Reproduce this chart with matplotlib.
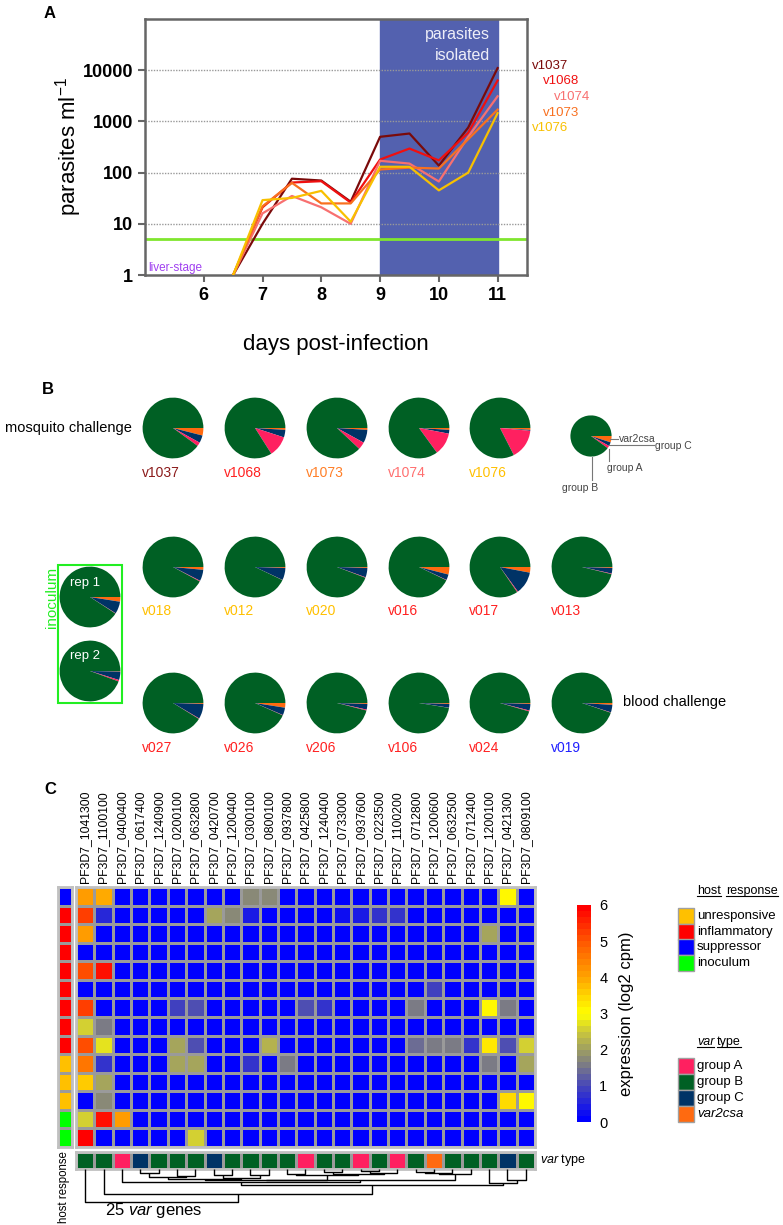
import matplotlib
matplotlib.use("Agg")
import matplotlib.pyplot as plt
import numpy as np
from matplotlib.colors import LinearSegmentedColormap, ListedColormap
from matplotlib.patches import Rectangle

plt.rcParams['font.family'] = 'Liberation Sans'
plt.rcParams['mathtext.fontset'] = 'custom'
plt.rcParams['mathtext.rm'] = 'Liberation Sans'
plt.rcParams['mathtext.it'] = 'Liberation Sans:italic'
plt.rcParams['mathtext.bf'] = 'Liberation Sans:bold'

# ---------------- Panel A data ----------------
days = [6.5, 7, 7.5, 8, 8.5, 9, 9.5, 10, 10.5, 11]
v1037 = [1, 10, 76, 70, 27, 500, 580, 137, 760, 11000]
v1068 = [1, 21, 64, 68, 26, 180, 295, 173, 600, 6300]
v1074 = [1, 16, 35, 21, 10, 170, 150, 67, 500, 3100]
v1073 = [1, 22, 63, 25, 25, 115, 125, 120, 450, 1700]
v1076 = [1, 29, 32, 44, 11, 130, 130, 45, 100, 1450]
series_names = ['v1037', 'v1068', 'v1074', 'v1073', 'v1076']
series_colors = ['#7A0A0A', '#F01010', '#F87070', '#F87020', '#F8C000']
detection_limit = 5

# ---------------- Panel B data ----------------
pie_types = ['var2csa', 'group C', 'group A', 'group B']
pie_colors = ['#FF6A10', '#003366', '#FF2060', '#006024']

mosq_names = ['v1037', 'v1068', 'v1073', 'v1074', 'v1076']
mosq_label_colors = ['#8B1A1A', '#FF2020', '#FF7F27', '#FF6F6F', '#FFC000']
mosq_var2csa = [4, 1, 1, 1, 1]
mosq_groupC = [4, 4, 7, 2, 0.5]
mosq_groupA = [2, 11, 4, 12, 16]

blood1_names = ['v018', 'v012', 'v020', 'v016', 'v017', 'v013']
blood1_label_colors = ['#FFC000', '#FFC000', '#FFC000', '#FF2020', '#FF2020', '#FF2020']
blood1_var2csa = [1.5, 0.5, 0.5, 4, 3, 0.5]
blood1_groupC = [6, 6.5, 5, 3, 12, 3]
blood1_groupA = [0.4, 0.1, 0.3, 0.2, 0.5, 0.3]

blood2_names = ['v027', 'v026', 'v206', 'v106', 'v024', 'v019']
blood2_label_colors = ['#FF2020'] * 5 + ['#2020FF']
blood2_var2csa = [0.5, 2.5, 0.5, 0.5, 0.5, 1]
blood2_groupC = [8, 4, 3, 2, 3.5, 4]
blood2_groupA = [0.3, 0.2, 0.5, 0.1, 0.5, 0.2]

inoc_names = ['rep 1', 'rep 2']
inoc_var2csa = [2.5, 0.3]
inoc_groupC = [6.5, 4.5]
inoc_groupA = [0.2, 0.8]

legend_pie = [5, 3, 2]

# ---------------- Panel C data ----------------
genes = ['PF3D7_1041300', 'PF3D7_1100100', 'PF3D7_0400400', 'PF3D7_0617400', 'PF3D7_1240900',
         'PF3D7_0200100', 'PF3D7_0632800', 'PF3D7_0420700', 'PF3D7_1200400', 'PF3D7_0300100',
         'PF3D7_0800100', 'PF3D7_0937800', 'PF3D7_0425800', 'PF3D7_1240400', 'PF3D7_0733000',
         'PF3D7_0937600', 'PF3D7_0223500', 'PF3D7_1100200', 'PF3D7_0712800', 'PF3D7_1200600',
         'PF3D7_0632500', 'PF3D7_0712400', 'PF3D7_1200100', 'PF3D7_0421300', 'PF3D7_0809100']
gene_type = ['B', 'B', 'A', 'C', 'B', 'B', 'B', 'C', 'B', 'B', 'B', 'B', 'A', 'B', 'B',
             'A', 'B', 'A', 'B', 'var2csa', 'B', 'B', 'B', 'C', 'B']
host_resp = ['suppressor'] + ['inflammatory'] * 8 + ['unresponsive'] * 3 + ['inoculum'] * 2

# non-zero expression cells: row -> {column(1-based): log2 cpm}
expr_cells = {
    1: {1: 4.1, 2: 3.9, 10: 1.8, 11: 1.8, 24: 3.0},
    2: {1: 5.3, 2: 0.6, 8: 2.0, 9: 1.8, 10: 0.4, 15: 0.3, 16: 0.4, 17: 0.8, 18: 0.8},
    3: {1: 4.1, 23: 2.1},
    4: {},
    5: {1: 5.0, 2: 5.7},
    6: {20: 0.9},
    7: {1: 5.2, 6: 0.9, 7: 1.0, 13: 1.0, 14: 0.8, 19: 1.6, 23: 3.1, 24: 1.6},
    8: {1: 2.5, 2: 1.6},
    9: {1: 5.0, 2: 2.7, 6: 2.0, 7: 1.1, 11: 2.3, 19: 1.4, 20: 1.6, 21: 1.6, 22: 0.8,
        23: 3.3, 24: 1.0, 25: 2.6},
    10: {1: 4.6, 2: 0.7, 6: 2.0, 7: 2.0, 10: 0.8, 12: 1.6, 23: 1.6, 25: 2.1},
    11: {1: 3.6, 2: 2.0},
    12: {2: 1.8, 24: 3.4, 25: 3.1},
    13: {1: 2.5, 2: 5.8, 3: 4.1},
    14: {1: 6.0, 7: 2.5},
}

# dendrogram merges: (left id, right id, height); leaves are 0..24
merges = [
    (3, 4, 4), (5, 6, 7), (7, 8, 6), (9, 10, 6),
    (11, 12, 5), (13, 14, 3), (15, 16, 2), (31, 17, 3.5), (30, 32, 4.5), (29, 33, 5.5),
    (18, 19, 3), (35, 20, 4), (36, 21, 5),
    (25, 26, 8), (27, 28, 8.5), (38, 39, 9.5), (40, 34, 10.5), (41, 37, 11),
    (2, 42, 12.5), (23, 24, 11), (22, 44, 14), (43, 45, 16), (1, 46, 25), (0, 47, 33),
]

host_colors = {'unresponsive': '#FFC000', 'inflammatory': '#FF0000',
               'suppressor': '#0000FF', 'inoculum': '#00FF00'}
type_colors = {'A': '#FF2060', 'B': '#006024', 'C': '#003366', 'var2csa': '#FF6A10'}

W, H = 783, 1225
fig = plt.figure(figsize=(W / 100, H / 100), dpi=100)


def px_axes(x0, y0, x1, y1):
    return fig.add_axes([x0 / W, 1 - y1 / H, (x1 - x0) / W, (y1 - y0) / H])


# ================= Panel A =================
ax = px_axes(145, 19, 527, 275)
ax.set_yscale('log')
ax.set_xlim(5, 11.5)
ax.set_ylim(1, 1e5)
ax.axvspan(9, 11, color='#5361AF', zorder=0)
for yv in [10, 100, 1000, 10000]:
    ax.axhline(yv, color='#999999', lw=1, ls=(0, (1, 1)), zorder=1)
ax.axhline(detection_limit, color='#80E62E', lw=2, zorder=2)
for vals, c in zip([v1037, v1068, v1074, v1073, v1076], series_colors):
    ax.plot(days, vals, color=c, lw=1.6, zorder=3)
ax.set_xticks([6, 7, 8, 9, 10, 11])
ax.set_yticks([1, 10, 100, 1000, 10000])
ax.set_yticklabels(['1', '10', '100', '1000', '10000'])
ax.minorticks_off()
ax.tick_params(labelsize=13, width=1.5, length=5, color='#666666')
for lab in ax.get_xticklabels() + ax.get_yticklabels():
    lab.set_fontweight('bold')
for s in ax.spines.values():
    s.set_color('#666666')
    s.set_linewidth(1.8)
ax.set_ylabel('parasites ml$^{-1}$', fontsize=16, labelpad=-1)
ax.set_xlabel('days post-infection', fontsize=16, labelpad=22)

# ================= Panel B pies =================
def draw_pie(cx, cy, r, v2, gc, ga):
    a = px_axes(cx - r, cy - r, cx + r, cy + r)
    vals = [v2, gc, ga, 100 - v2 - gc - ga]
    a.pie(vals, colors=pie_colors, startangle=0, counterclock=False, radius=1,
          frame=True, wedgeprops=dict(linewidth=0))
    a.set_xlim(-1.02, 1.02)
    a.set_ylim(-1.02, 1.02)
    a.axis('off')
    return a


pie_x = [173, 255, 337, 419, 500, 582]
R = 31
label_items = []
for i in range(5):
    draw_pie(pie_x[i], 428, R, mosq_var2csa[i], mosq_groupC[i], mosq_groupA[i])
    label_items.append((pie_x[i] - R, 473, mosq_names[i], mosq_label_colors[i]))
for i in range(6):
    draw_pie(pie_x[i], 567, R, blood1_var2csa[i], blood1_groupC[i], blood1_groupA[i])
    label_items.append((pie_x[i] - R, 611, blood1_names[i], blood1_label_colors[i]))
for i in range(6):
    draw_pie(pie_x[i], 703, R, blood2_var2csa[i], blood2_groupC[i], blood2_groupA[i])
    label_items.append((pie_x[i] - R, 748, blood2_names[i], blood2_label_colors[i]))
inoc_y = [597, 671]
for i in range(2):
    draw_pie(90, inoc_y[i], R, inoc_var2csa[i], inoc_groupC[i], inoc_groupA[i])
draw_pie(591, 436, 21, legend_pie[0], legend_pie[1], legend_pie[2])

# ================= Panel C heatmap =================
n_rows, n_cols = len(host_resp), len(genes)
expr = np.zeros((n_rows, n_cols))
for r_i, cells in expr_cells.items():
    for c_i, v in cells.items():
        expr[r_i - 1, c_i - 1] = v

cmap = LinearSegmentedColormap.from_list('expr', [
    (0.0, '#0000FF'), (1 / 6, '#4B4BB4'), (1.6 / 6, '#808080'), (2 / 6, '#A0A060'),
    (2.5 / 6, '#CCC83A'), (3 / 6, '#FFFF00'), (3.5 / 6, '#FFD500'), (4 / 6, '#FFA500'),
    (5 / 6, '#FF5A00'), (1.0, '#FF0000')], N=36)

hx = px_axes(76, 887, 535, 1147)
mesh = hx.pcolormesh(expr, cmap=cmap, vmin=0, vmax=6, edgecolors='#9A9A9A', linewidth=1)
hx.set_xlim(0, n_cols)
hx.set_ylim(n_rows, 0)
hx.set_xticks(np.arange(n_cols) + 0.5)
hx.set_xticklabels(genes, rotation=90, fontsize=8.8)
hx.xaxis.tick_top()
hx.tick_params(length=0, pad=3)
hx.set_yticks([])
for s in hx.spines.values():
    s.set_color('#C0C0C0')
    s.set_linewidth(2)

# host response column
host_order = ['unresponsive', 'inflammatory', 'suppressor', 'inoculum']
host_idx = np.array([[host_order.index(h)] for h in host_resp])
ax_h = px_axes(58, 887, 72, 1147)
ax_h.pcolormesh(host_idx, cmap=ListedColormap([host_colors[k] for k in host_order]),
                vmin=-0.5, vmax=3.5, edgecolors='#9A9A9A', linewidth=1)
ax_h.set_ylim(n_rows, 0)
ax_h.set_xticks([])
ax_h.set_yticks([])
for s in ax_h.spines.values():
    s.set_color('#C0C0C0')
    s.set_linewidth(2)

# var type row
type_order = ['A', 'B', 'C', 'var2csa']
type_idx = np.array([[type_order.index(t) for t in gene_type]])
ax_t = px_axes(76, 1152, 535, 1169)
ax_t.pcolormesh(type_idx, cmap=ListedColormap([type_colors[k] for k in type_order]),
                vmin=-0.5, vmax=3.5, edgecolors='#9A9A9A', linewidth=1)
ax_t.set_xticks([])
ax_t.set_yticks([])
for s in ax_t.spines.values():
    s.set_color('#C0C0C0')
    s.set_linewidth(2)

# dendrogram
ax_d = px_axes(76, 1169, 535, 1205)
pos = {i: i + 1.0 for i in range(n_cols)}
hgt = {i: 0.0 for i in range(n_cols)}
for k, (a, b, h) in enumerate(merges):
    nid = n_cols + k
    ax_d.plot([pos[a], pos[a], pos[b], pos[b]], [hgt[a], h, h, hgt[b]],
              color='black', lw=1, solid_capstyle='butt')
    pos[nid] = (pos[a] + pos[b]) / 2
    hgt[nid] = h
ax_d.set_xlim(0.5, n_cols + 0.5)
ax_d.set_ylim(36, 0)
ax_d.axis('off')

# colorbar
cax = px_axes(577, 905, 591, 1122)
cb = fig.colorbar(mesh, cax=cax, ticks=range(7))
cb.outline.set_visible(False)
cb.ax.tick_params(length=0, labelsize=10.5, pad=6)
cb.set_label('expression (log2 cpm)', fontsize=12, labelpad=8)

# ================= overlay texts =================
ov = fig.add_axes([0, 0, 1, 1])
ov.set_xlim(0, W)
ov.set_ylim(H, 0)
ov.axis('off')
ov.patch.set_visible(False)

ov.text(50, 14, 'A', fontsize=12, fontweight='bold', ha='center', va='center')
ov.text(48, 390, 'B', fontsize=12, fontweight='bold', ha='center', va='center')
ov.text(50, 790, 'C', fontsize=12, fontweight='bold', ha='center', va='center')

ov.text(490, 35, 'parasites', color='#EEEEF8', fontsize=11.5, ha='right', va='center')
ov.text(490, 56, 'isolated', color='#EEEEF8', fontsize=11.5, ha='right', va='center')
ov.text(148, 268, 'liver-stage', color='#A040F0', fontsize=8.5, ha='left', va='center')
end_label_x = [532, 543, 554, 543, 532]
end_label_y = [66, 81, 97, 113, 128]
for name, c, lx, ly in zip(series_names, series_colors, end_label_x, end_label_y):
    ov.text(lx, ly, name, color=c, fontsize=9.5, ha='left', va='center')

ov.text(132, 428, 'mosquito challenge', fontsize=10.5, ha='right', va='center')
ov.text(623, 702, 'blood challenge', fontsize=10.5, ha='left', va='center')
for lx, ly, name, c in label_items:
    ov.text(lx, ly, name, color=c, fontsize=10, ha='left', va='center')
ov.add_patch(Rectangle((58, 565), 64, 138, fill=False, edgecolor='#22EE22', lw=1.5))
ov.text(52, 597, 'inoculum', color='#22EE22', fontsize=11, rotation=90, ha='center', va='center')
ov.text(70, 583, 'rep 1', color='white', fontsize=9.5, ha='left', va='center')
ov.text(70, 656, 'rep 2', color='white', fontsize=9.5, ha='left', va='center')

# legend pie leaders
lc = '#777777'
ov.plot([610, 618], [439, 439], color=lc, lw=0.8)
ov.plot([609, 654], [445, 445], color=lc, lw=0.8)
ov.plot([609, 609], [449, 461], color=lc, lw=0.8)
ov.plot([592, 592], [457, 480], color=lc, lw=0.8)
ov.text(619, 439, 'var2csa', fontsize=7.5, color='#444444', ha='left', va='center')
ov.text(655, 446, 'group C', fontsize=7.5, color='#444444', ha='left', va='center')
ov.text(607, 468, 'group A', fontsize=7.5, color='#444444', ha='left', va='center')
ov.text(562, 488, 'group B', fontsize=7.5, color='#444444', ha='left', va='center')

ov.text(540, 1160, r'$\it{var}$ type', fontsize=9, ha='left', va='center')
ov.text(64, 1187, 'host response', fontsize=8.3, rotation=90, ha='center', va='center')
ov.text(105, 1211, r'25 $\it{var}$ genes', fontsize=12, ha='left', va='center')

# legends
ul_texts = []
ul_texts.append(ov.text(697, 891, 'host', fontsize=9, ha='left', va='center'))
ul_texts.append(ov.text(726, 891, 'response', fontsize=9, ha='left', va='center'))
host_leg_y = [916, 932, 947, 963]
for name, yy in zip(host_order, host_leg_y):
    ov.add_patch(Rectangle((678, yy - 8), 16, 16, facecolor=host_colors[name],
                           edgecolor='#A0A0A0', lw=1))
    ov.text(697, yy, name, fontsize=9.5, ha='left', va='center')
ul_texts.append(ov.text(697, 1042, 'var', fontsize=9, style='italic', ha='left', va='center'))
ul_texts.append(ov.text(717, 1042, 'type', fontsize=9, ha='left', va='center'))
type_leg_names = ['group A', 'group B', 'group C', 'var2csa']
type_leg_y = [1066, 1082, 1098, 1114]
for key, name, yy in zip(type_order, type_leg_names, type_leg_y):
    ov.add_patch(Rectangle((678, yy - 8), 16, 16, facecolor=type_colors[key],
                           edgecolor='#A0A0A0', lw=1))
    ov.text(697, yy, name, fontsize=9.5, ha='left', va='center',
            style='italic' if key == 'var2csa' else 'normal')

fig.canvas.draw()
rend = fig.canvas.get_renderer()
inv = ov.transData.inverted()
for t in ul_texts:
    bb = t.get_window_extent(rend)
    (x0, y0), (x1, _) = inv.transform([(bb.x0, bb.y0), (bb.x1, bb.y0)])
    ov.plot([x0, x1], [y0 - 1, y0 - 1], color='black', lw=0.8)

fig.savefig('out.png', dpi=100)
